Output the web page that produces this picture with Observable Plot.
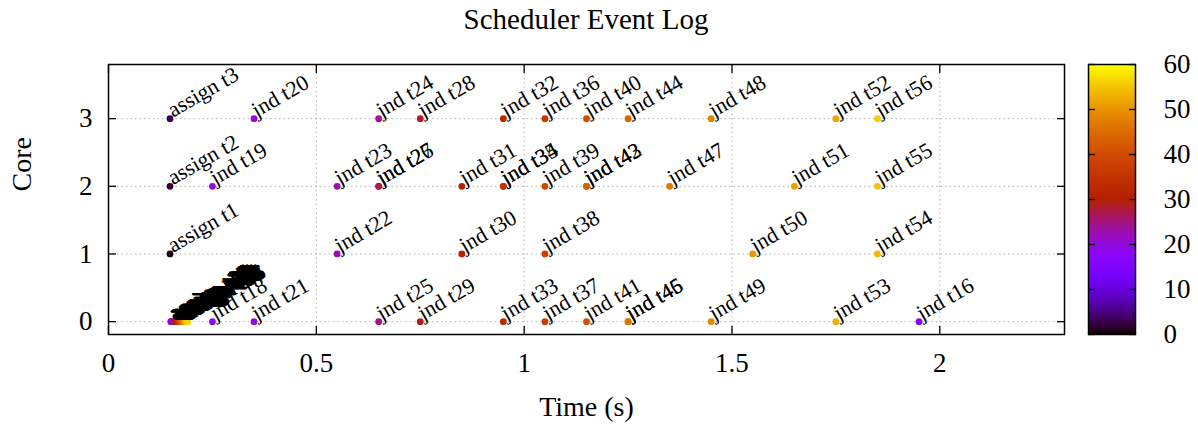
<!DOCTYPE html>
<html><head><meta charset="utf-8">
<script src="https://cdn.jsdelivr.net/npm/d3@7"></script>
<script src="https://cdn.jsdelivr.net/npm/@observablehq/plot@0.6"></script>
<style>
body{margin:0;background:#fff;font-family:"Liberation Serif",serif;}
#wrap{position:relative;width:1198px;height:425px;overflow:hidden;}
#title{position:absolute;left:0;width:1172px;top:3px;text-align:center;font-size:29px;color:#000;}
#main{position:absolute;left:0;top:40px;}
#cbar{position:absolute;left:1075px;top:40px;}
</style></head><body>
<div id="wrap"><div id="title">Scheduler Event Log</div><div id="main"></div><div id="cbar"></div></div>
<script>
const xTicks = [0, 0.5, 1, 1.5, 2];
const yTicks = [0, 1, 2, 3];
const cbTicks = [0, 10, 20, 30, 40, 50, 60];

const core3Times = [0.148, 0.35, 0.65, 0.75, 0.95, 1.05, 1.15, 1.25, 1.45, 1.75, 1.85];
const core3Labels = ["assign t3","jnd t20","jnd t24","jnd t28","jnd t32","jnd t36","jnd t40","jnd t44","jnd t48","jnd t52","jnd t56"];
const core2Times = [0.148, 0.25, 0.55, 0.65, 0.65, 0.85, 0.95, 0.95, 1.05, 1.15, 1.15, 1.35, 1.65, 1.85];
const core2Labels = ["assign t2","jnd t19","jnd t23","jnd t26","jnd t27","jnd t31","jnd t34","jnd t35","jnd t39","jnd t42","jnd t43","jnd t47","jnd t51","jnd t55"];
const core1Times = [0.148, 0.55, 0.85, 1.05, 1.55, 1.85];
const core1Labels = ["assign t1","jnd t22","jnd t30","jnd t38","jnd t50","jnd t54"];
const core0Times = [0.25, 0.35, 0.65, 0.75, 0.95, 1.05, 1.15, 1.25, 1.25, 1.45, 1.75, 1.95];
const core0Labels = ["jnd t18","jnd t21","jnd t25","jnd t29","jnd t33","jnd t37","jnd t41","jnd t45","jnd t46","jnd t49","jnd t53","jnd t16"];
// dense burst of assignments on core 0
const burstTimes = [0.150,0.151,0.152,0.153,0.154,0.155,0.156,0.157,0.158,0.159,0.160,0.161,0.162,0.163,0.164,0.165,0.166,0.167,0.168,0.169,0.170,0.171,0.172,0.173,0.174,0.175,0.176,0.177,0.178,0.179,0.180,0.181,0.182,0.183,0.184,0.185,0.186,0.187,0.188,0.189,0.190];
const burstLabels = ["assign t16","assign t17","assign t18","assign t19","assign t20","assign t21","assign t22","assign t23","assign t24","assign t25","assign t26","assign t27","assign t28","assign t29","assign t30","assign t31","assign t32","assign t33","assign t34","assign t35","assign t36","assign t37","assign t38","assign t39","assign t40","assign t41","assign t42","assign t43","assign t44","assign t45","assign t46","assign t47","assign t48","assign t49","assign t50","assign t51","assign t52","assign t53","assign t54","assign t55","assign t56"];

function rows(times, labels, core) {
  return times.map((t, i) => ({t, core, label: labels[i], task: +labels[i].match(/t(\d+)$/)[1]}));
}
const events = [
  ...rows(burstTimes, burstLabels, 0),
  ...rows(core0Times, core0Labels, 0),
  ...rows(core1Times, core1Labels, 1),
  ...rows(core2Times, core2Labels, 2),
  ...rows(core3Times, core3Labels, 3)
];

// gnuplot default palette (rgbformulae 7,5,15)
function gnuplotPalette(t) {
  t = Math.max(0, Math.min(1, t));
  const r = Math.sqrt(t), g = t * t * t, b = Math.max(0, Math.sin(2 * Math.PI * t));
  return d3.rgb(255 * r, 255 * g, 255 * b).toString();
}
const colorScale = {type: "linear", domain: [0, 60], interpolate: gnuplotPalette, clamp: true};

const gridStyle = {stroke: "#b0b0b0", strokeOpacity: 1, strokeDasharray: "1.5,3", strokeWidth: 1};

const main = Plot.plot({
  width: 1075, height: 385,
  marginLeft: 108, marginRight: 11, marginTop: 24, marginBottom: 91,
  style: {fontFamily: "Liberation Serif, serif", fontSize: "27px", background: "white", color: "black", overflow: "visible"},
  x: {domain: [0, 2.3]},
  y: {domain: [-0.19, 3.8]},
  color: colorScale,
  marks: [
    Plot.gridX(xTicks, gridStyle),
    Plot.gridY(yTicks, gridStyle),
    Plot.dot(events, {x: "t", y: "core", fill: "task", r: 3.4}),
    Plot.text(events, {x: "t", y: "core", text: "label", rotate: -30, textAnchor: "start", lineAnchor: "bottom", fontSize: 22, dx: 3, dy: -1, fill: "black"}),
    Plot.frame({stroke: "black", strokeWidth: 1.5}),
    Plot.axisX(xTicks, {anchor: "bottom", tickSize: -8, tickFormat: () => "", label: null, strokeWidth: 1.3}),
    Plot.axisX(xTicks, {anchor: "top", tickSize: -8, tickFormat: () => "", label: null, strokeWidth: 1.3}),
    Plot.axisY(yTicks, {anchor: "left", tickSize: -8, tickFormat: () => "", label: null, strokeWidth: 1.3}),
    Plot.axisY(yTicks, {anchor: "right", tickSize: -8, tickFormat: () => "", label: null, strokeWidth: 1.3}),
    Plot.axisX(xTicks, {anchor: "bottom", tickSize: 0, tickPadding: 18, label: null, fontSize: 27, tickFormat: d => String(d)}),
    Plot.axisY(yTicks, {anchor: "left", tickSize: 0, tickPadding: 16, label: null, fontSize: 27, tickFormat: d => String(d)}),
    Plot.text(["Time (s)"], {frameAnchor: "bottom", dy: 73, fontSize: 28, lineAnchor: "middle"}),
    Plot.text(["Core"], {frameAnchor: "left", dx: -86, dy: -8, rotate: -90, fontSize: 28, lineAnchor: "middle"})
  ]
});
document.getElementById("main").appendChild(main);

const cbar = Plot.plot({
  width: 123, height: 385,
  marginLeft: 13, marginRight: 63, marginTop: 24, marginBottom: 91,
  style: {fontFamily: "Liberation Serif, serif", fontSize: "27px", background: "transparent", color: "black", overflow: "visible"},
  x: {domain: [0, 1], axis: null},
  y: {domain: [0, 60]},
  color: colorScale,
  marks: [
    Plot.raster({x1: 0, x2: 1, y1: 0, y2: 60, width: 1, height: 270, fill: (x, y) => y, imageRendering: "auto"}),
    Plot.frame({stroke: "black", strokeWidth: 1.5}),
    Plot.axisY(cbTicks, {anchor: "left", tickSize: -7, tickFormat: () => "", label: null, strokeWidth: 1.3}),
    Plot.axisY(cbTicks, {anchor: "right", tickSize: -7, tickFormat: () => "", label: null, strokeWidth: 1.3}),
    Plot.axisY(cbTicks, {anchor: "right", tickSize: 0, tickPadding: 28, label: null, fontSize: 27, tickFormat: d => String(d)})
  ]
});
document.getElementById("cbar").appendChild(cbar);
</script>
</body></html>
